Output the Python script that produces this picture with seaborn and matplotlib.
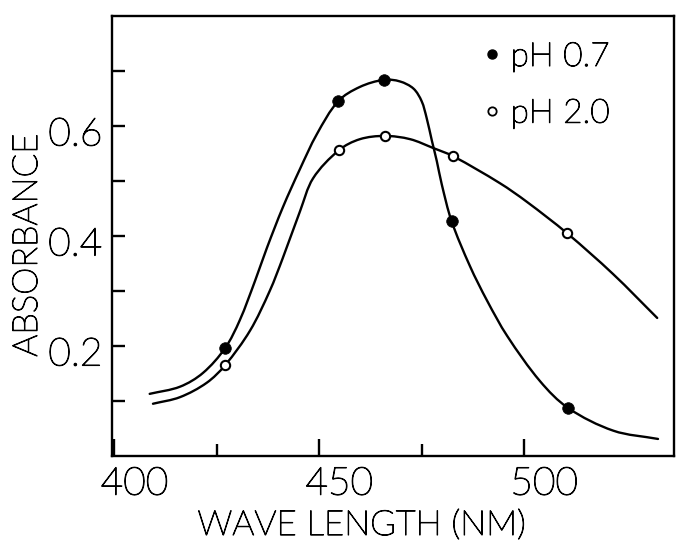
import matplotlib
matplotlib.use("Agg")
import matplotlib.pyplot as plt
import matplotlib.transforms as mtransforms
import matplotlib.patheffects as pe
from matplotlib.lines import Line2D
from matplotlib.path import Path
from matplotlib.patches import PathPatch
import numpy as np
import pandas as pd
import seaborn as sns

# Measured absorbance at each wavelength (nm)
wavelength_ph07 = [427.0, 454.6, 465.8, 482.3, 510.8]
absorbance_ph07 = [0.196, 0.645, 0.684, 0.427, 0.087]
wavelength_ph20 = [427.0, 454.8, 466.0, 482.7, 510.5]
absorbance_ph20 = [0.165, 0.556, 0.582, 0.545, 0.405]

# Hand-drawn absorption curves through the measurements
curve_x_ph07 = [408.6, 416.0, 421.6, 427.0, 430.6, 434.3, 437.2, 441.1, 445.3,
                449.4, 454.6, 459.9, 465.8, 469.7, 473.0, 475.0, 476.2, 477.5,
                478.7, 479.9, 482.3, 486.8, 491.0, 495.9, 503.9, 510.8, 521.8,
                532.7]
curve_y_ph07 = [0.113, 0.126, 0.151, 0.196, 0.247, 0.318, 0.378, 0.452, 0.522,
                0.585, 0.645, 0.671, 0.684, 0.681, 0.668, 0.645, 0.615, 0.573,
                0.536, 0.494, 0.427, 0.345, 0.282, 0.218, 0.136, 0.087, 0.046,
                0.031]
curve_x_ph20 = [409.4, 416.0, 422.5, 427.0, 433.1, 437.9, 441.1, 445.3, 448.5,
                454.8, 459.9, 466.0, 472.2, 477.8, 482.7, 494.1, 500.7, 510.5,
                521.7, 532.5]
curve_y_ph20 = [0.095, 0.107, 0.133, 0.165, 0.228, 0.300, 0.360, 0.445, 0.505,
                0.556, 0.576, 0.582, 0.576, 0.560, 0.545, 0.496, 0.462, 0.405,
                0.331, 0.251]

series_labels = ["pH 0.7", "pH 2.0"]
x_major = [400, 450, 500]
x_minor = [425, 475]
y_major = [0.2, 0.4, 0.6]
y_minor = [0.1, 0.3, 0.5, 0.7]
x_title = "WAVE LENGTH (NM)"
y_title = "ABSORBANCE"

sns.set_theme(style="ticks")
plt.rcParams["font.family"] = ["Lato", "DejaVu Sans"]
plt.rcParams["font.weight"] = "light"
plt.rcParams["axes.labelweight"] = "light"
plt.rcParams["text.color"] = "black"
plt.rcParams["axes.labelcolor"] = "black"
plt.rcParams["xtick.color"] = "black"
plt.rcParams["ytick.color"] = "black"

# thin pen-lettering look: light face plus a fine outline
PEN = [pe.withStroke(linewidth=0.8, foreground="black")]


def smooth_curve_path(xs, ys, sx=4.093, sy=550.0):
    """Cubic Bezier path through every traced point (chord-length tangents)."""
    pts = np.column_stack([xs, ys])
    scr = pts * np.array([sx, sy])
    d = np.hypot(*np.diff(scr, axis=0).T)
    t = np.concatenate([[0.0], np.cumsum(d)])
    n = len(pts)
    tang = np.zeros_like(pts)
    for i in range(n):
        a, b = max(i - 1, 0), min(i + 1, n - 1)
        tang[i] = (pts[b] - pts[a]) / (t[b] - t[a])
    verts = [pts[0]]
    codes = [Path.MOVETO]
    for i in range(n - 1):
        h = t[i + 1] - t[i]
        verts += [pts[i] + tang[i] * h / 3.0, pts[i + 1] - tang[i + 1] * h / 3.0,
                  pts[i + 1]]
        codes += [Path.CURVE4] * 3
    return Path(verts, codes)


fig = plt.figure(figsize=(6.77, 5.41), dpi=100)
ax = fig.add_axes([112 / 677, 1 - 456 / 541, 562 / 677, 440 / 541])

for cx, cy in [(curve_x_ph07, curve_y_ph07), (curve_x_ph20, curve_y_ph20)]:
    ax.add_patch(PathPatch(smooth_curve_path(cx, cy), facecolor="none",
                           edgecolor="black", linewidth=1.7, zorder=2,
                           capstyle="round", joinstyle="round"))

points = pd.concat([
    pd.DataFrame({"wl": wavelength_ph07, "abs": absorbance_ph07, "series": series_labels[0]}),
    pd.DataFrame({"wl": wavelength_ph20, "abs": absorbance_ph20, "series": series_labels[1]}),
])
sns.scatterplot(data=points[points.series == series_labels[0]], x="wl", y="abs",
                marker="o", s=70, color="black", edgecolor="black",
                linewidth=0.5, ax=ax, zorder=3, legend=False)
sns.scatterplot(data=points[points.series == series_labels[1]], x="wl", y="abs",
                marker="o", s=45, facecolor="white", edgecolor="black",
                linewidth=1.5, ax=ax, zorder=3, legend=False)

ax.set_xlim(399.4, 536.6)
ax.set_ylim(0, 0.8)

for side in ["left", "right", "top", "bottom"]:
    ax.spines[side].set_visible(True)
    ax.spines[side].set_linewidth(1.7)
    ax.spines[side].set_color("black")

ax.set_xticks(x_major)
ax.set_xticks(x_minor, minor=True)
ax.set_xticklabels([str(v) for v in x_major])
ax.set_yticks(y_major)
ax.set_yticks(y_minor, minor=True)
ax.set_yticklabels([f"{v:.1f}" for v in y_major])

ax.tick_params(axis="x", which="major", direction="in", length=12, width=1.7,
               pad=7, labelsize=28)
ax.tick_params(axis="x", which="minor", direction="in", length=9, width=1.7)
ax.tick_params(axis="y", which="both", direction="in", length=9.5, width=1.7,
               pad=7, labelsize=28)

shift_x = mtransforms.ScaledTranslation(20 / 100, 0, fig.dpi_scale_trans)
for lab in ax.get_xticklabels():
    lab.set_transform(lab.get_transform() + shift_x)
    lab.set_path_effects(PEN)
shift_y = mtransforms.ScaledTranslation(0, -5 / 100, fig.dpi_scale_trans)
for lab in ax.get_yticklabels():
    lab.set_transform(lab.get_transform() + shift_y)
    lab.set_path_effects(PEN)

ax.set_xlabel(x_title, fontsize=25, fontweight="light", path_effects=PEN)
ax.xaxis.label.set_va("center")
ax.xaxis.set_label_coords((362 - 112) / 562, -(525 - 456) / 440)
ax.set_ylabel(y_title, fontsize=25, fontweight="light", path_effects=PEN)
ax.yaxis.label.set_va("center")
ax.yaxis.set_label_coords((27 - 112) / 562, (456 - 245) / 440)

handles = [
    Line2D([], [], linestyle="none", marker="o", markersize=6.5,
           markerfacecolor="black", markeredgecolor="black"),
    Line2D([], [], linestyle="none", marker="o", markersize=6,
           markerfacecolor="white", markeredgecolor="black", markeredgewidth=1.3),
]
leg = ax.legend(handles, series_labels, loc="upper left",
                bbox_to_anchor=((484 - 112) / 562, (456 - 42) / 440),
                frameon=False, fontsize=24, handlelength=0.5,
                handletextpad=0.3, labelspacing=0.8, borderpad=0,
                borderaxespad=0)
for txt in leg.get_texts():
    txt.set_path_effects(PEN)

fig.savefig("out.png", dpi=100)
